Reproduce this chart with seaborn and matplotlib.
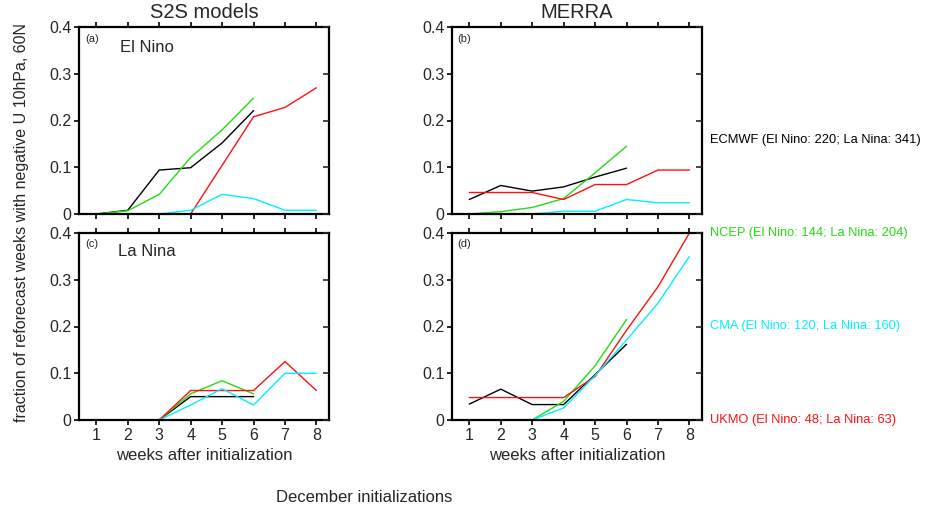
import numpy as np
import pandas as pd
import matplotlib
matplotlib.use("Agg")
import matplotlib.pyplot as plt
import seaborn as sns

nan = np.nan
weeks = [1, 2, 3, 4, 5, 6, 7, 8]
models = ["ECMWF", "NCEP", "UKMO", "CMA"]
model_labels = {
    "ECMWF": "ECMWF (El Nino: 220; La Nina: 341)",
    "NCEP": "NCEP (El Nino: 144; La Nina: 204)",
    "CMA": "CMA (El Nino: 120; La Nina: 160)",
    "UKMO": "UKMO (El Nino: 48; La Nina: 63)",
}
colors = {"ECMWF": "#000000", "NCEP": "#22DD11", "CMA": "#00F0FF", "UKMO": "#FF1010"}

# (a) S2S models, El Nino
a_ecmwf = [0.0, 0.008, 0.094, 0.099, 0.152, 0.221, nan, nan]
a_ncep = [0.0, 0.007, 0.042, 0.121, 0.180, 0.248, nan, nan]
a_cma = [nan, nan, 0.0, 0.008, 0.042, 0.033, 0.008, 0.008]
a_ukmo = [nan, nan, nan, 0.0, 0.104, 0.208, 0.228, 0.270]
# (b) MERRA, El Nino
b_ecmwf = [0.031, 0.061, 0.049, 0.058, 0.079, 0.098, nan, nan]
b_ncep = [0.0, 0.005, 0.014, 0.033, 0.088, 0.145, nan, nan]
b_cma = [nan, nan, 0.0, 0.006, 0.006, 0.031, 0.024, 0.024]
b_ukmo = [0.046, 0.046, 0.046, 0.031, 0.063, 0.063, 0.094, 0.094]
# (c) S2S models, La Nina
c_ecmwf = [0.0, 0.0, 0.0, 0.050, 0.050, 0.050, nan, nan]
c_ncep = [0.0, 0.0, 0.0, 0.056, 0.084, 0.056, nan, nan]
c_cma = [0.0, 0.0, 0.0, 0.032, 0.067, 0.032, 0.100, 0.100]
c_ukmo = [nan, nan, 0.0, 0.063, 0.063, 0.063, 0.125, 0.063]
# (d) MERRA, La Nina
d_ecmwf = [0.034, 0.066, 0.033, 0.033, 0.097, 0.162, nan, nan]
d_ncep = [0.0, 0.0, 0.0, 0.040, 0.116, 0.215, nan, nan]
d_cma = [0.0, 0.0, 0.0, 0.026, 0.095, 0.171, 0.250, 0.350]
d_ukmo = [0.048, 0.048, 0.048, 0.048, 0.093, 0.192, 0.285, 0.400]

y_ticks = [0, 0.1, 0.2, 0.3, 0.4]
y_ticklabels = ["0", "0.1", "0.2", "0.3", "0.4"]

panels = {
    "a": {"ECMWF": a_ecmwf, "NCEP": a_ncep, "CMA": a_cma, "UKMO": a_ukmo},
    "b": {"ECMWF": b_ecmwf, "NCEP": b_ncep, "CMA": b_cma, "UKMO": b_ukmo},
    "c": {"ECMWF": c_ecmwf, "NCEP": c_ncep, "CMA": c_cma, "UKMO": c_ukmo},
    "d": {"ECMWF": d_ecmwf, "NCEP": d_ncep, "CMA": d_cma, "UKMO": d_ukmo},
}

rows = []
for p, series in panels.items():
    for m, vals in series.items():
        for w, v in zip(weeks, vals):
            rows.append({"panel": p, "model": m, "week": w, "frac": v})
df = pd.DataFrame(rows).dropna()

sns.set_style("ticks")
plt.rcParams["font.family"] = ["Liberation Sans", "DejaVu Sans"]

W, H = 932, 512
fig = plt.figure(figsize=(W / 100, H / 100), dpi=100)


def rect(x0, y0, x1, y1):
    return [x0 / W, 1 - y1 / H, (x1 - x0) / W, (y1 - y0) / H]


def ftext(x, y, s, **kw):
    fig.text(x / W, 1 - y / H, s, **kw)


boxes = {
    "a": rect(79, 27, 329, 214),
    "b": rect(452, 27, 702, 214),
    "c": rect(79, 233, 329, 420),
    "d": rect(452, 233, 702, 420),
}

tick_fs = 11.5
for p, box in boxes.items():
    ax = fig.add_axes(box)
    sub = df[df["panel"] == p]
    sns.lineplot(data=sub, x="week", y="frac", hue="model", hue_order=models,
                 palette=colors, estimator=None, errorbar=None, legend=False,
                 linewidth=1.0, ax=ax, clip_on=True)
    ax.set_xlim(0.45, 8.4)
    ax.set_ylim(0, 0.4)
    ax.set_xticks(weeks)
    ax.set_yticks(y_ticks)
    ax.set_yticklabels(y_ticklabels)
    ax.set_xlabel("")
    ax.set_ylabel("")
    for s in ax.spines.values():
        s.set_visible(True)
        s.set_linewidth(1.6)
        s.set_color("black")
    ax.tick_params(axis="both", which="major", direction="out", length=3.5,
                   width=1.2, color="black", labelsize=tick_fs, pad=2,
                   top=True, right=False)
    ax2 = ax.twinx()
    ax2.set_ylim(0, 0.4)
    ax2.set_yticks(y_ticks)
    ax2.tick_params(axis="y", direction="in", length=4, width=1.2,
                    labelright=False, right=True)
    for s in ax2.spines.values():
        s.set_visible(False)
    if p in ("c", "d"):
        ax.set_xticklabels([str(w) for w in weeks])
        ax.set_xlabel("weeks after initialization", fontsize=12, labelpad=4)
    else:
        ax.set_xticklabels([])

# panel letters and case names
ftext(85, 39, "(a)", fontsize=8, va="center", ha="left")
ftext(457, 39, "(b)", fontsize=8, va="center", ha="left")
ftext(85, 244, "(c)", fontsize=8, va="center", ha="left")
ftext(457, 244, "(d)", fontsize=8, va="center", ha="left")
ftext(120, 47, "El Nino", fontsize=12, va="center", ha="left")
ftext(118, 252, "La Nina", fontsize=12, va="center", ha="left")

# column titles
ftext(204, 12, "S2S models", fontsize=14.5, va="center", ha="center")
ftext(577, 12, "MERRA", fontsize=14.5, va="center", ha="center")

# y label
ftext(22, 223, "fraction of reforecast weeks with negative U 10hPa, 60N",
      fontsize=11.5, rotation=90, va="center", ha="center")

# model labels on the right
for m, yy in zip(["ECMWF", "NCEP", "CMA", "UKMO"], [140, 233, 326, 420]):
    ftext(710, yy, model_labels[m], fontsize=9.3, color=colors[m],
          va="center", ha="left")

ftext(364, 497, "December initializations", fontsize=12, va="center", ha="center")

fig.savefig("out.png", dpi=100)
